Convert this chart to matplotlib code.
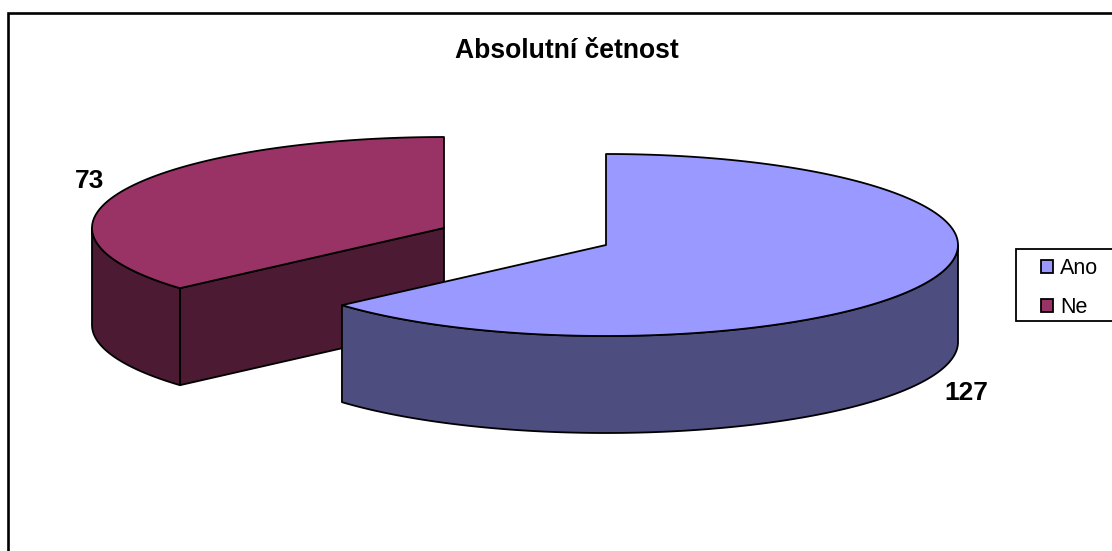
import numpy as np
import matplotlib
matplotlib.use("Agg")
import matplotlib.pyplot as plt
from matplotlib.patches import Polygon, Rectangle, Patch

plt.rcParams["font.family"] = ["Liberation Sans", "DejaVu Sans"]

# Survey answers
categories = ["Ano", "Ne"]
counts = [127, 73]
title = "Absolutní četnost"

top_colors = ["#9999FF", "#993366"]
side_colors = ["#4D4D80", "#4D1A33"]

# Projected pie geometry, in pixels
RX, RY, DEPTH = 352, 91, 97
CENTERS = [(606, 245), (444, 228)]
EDGE = dict(edgecolor="black", linewidth=1.3, joinstyle="round")


def rim(center, start, stop, n=240):
    """Points on the projected rim; angles run clockwise from 12 o'clock."""
    t = np.radians(np.linspace(start, stop, n))
    return np.column_stack([center[0] + RX * np.sin(t), center[1] - RY * np.cos(t)])


def draw_slice(ax, center, start, stop, top, side):
    down = np.array([0, DEPTH])
    # The cut face looking toward the viewer, when the slice ends on the left
    if start > 180:
        edge = rim(center, start, start, 1)[0]
        ax.add_patch(Polygon([center, edge, edge + down, np.array(center) + down],
                             facecolor=side, **EDGE))
    # Outer wall: only the front half of the rim is visible
    lo, hi = max(start, 90), min(stop, 270)
    if lo < hi:
        arc = rim(center, lo, hi)
        ax.add_patch(Polygon(np.vstack([arc, (arc + down)[::-1]]), facecolor=side, **EDGE))
    # Top surface
    ax.add_patch(Polygon(np.vstack([[center], rim(center, start, stop)]), facecolor=top, **EDGE))


fig = plt.figure(figsize=(11.12, 5.51), dpi=100, facecolor="white")
ax = fig.add_axes([0, 0, 1, 1])
ax.set_xlim(0, 1112)
ax.set_ylim(551, 0)
ax.axis("off")

# Chart area border runs off the right and bottom of the canvas
ax.plot([8, 8, 1112], [551, 13, 13], color="black", lw=1.9, solid_joinstyle="miter")

ax.text(567, 51, title, fontsize=19.1, fontweight="bold", ha="center", va="center")

spans = np.cumsum([0] + counts) / sum(counts) * 360
# The slice on the left sits behind the other one
for i in [1, 0]:
    draw_slice(ax, CENTERS[i], spans[i], spans[i + 1], top_colors[i], side_colors[i])

ax.text(966, 393, str(counts[0]), fontsize=19, fontweight="bold", ha="center", va="center")
ax.text(90, 181, str(counts[1]), fontsize=19, fontweight="bold", ha="center", va="center")

# Legend box
ax.add_patch(Rectangle((1016, 249), 110, 72, facecolor="white", edgecolor="black", linewidth=1.3))
handles = [Patch(facecolor=c, edgecolor="black", linewidth=1.3) for c in top_colors]
ax.legend(handles, categories, loc="upper left", bbox_to_anchor=(1041, 258),
          bbox_transform=ax.transData, frameon=False, fontsize=15.5, borderpad=0,
          borderaxespad=0, handlelength=0.58, handleheight=0.58, handletextpad=0.3,
          labelspacing=0.85)

fig.savefig("out.png", dpi=100)
